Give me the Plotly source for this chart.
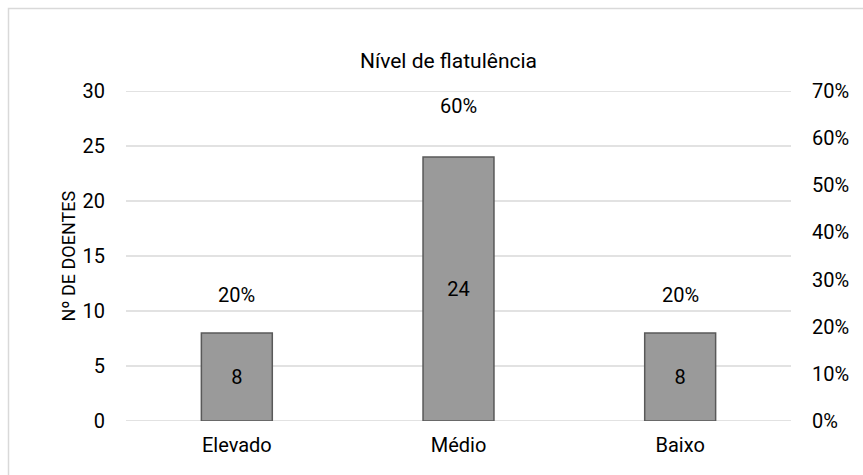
import plotly.graph_objects as go

categories = ["Elevado", "Médio", "Baixo"]
doentes = [8, 24, 8]
percent = [0.20, 0.60, 0.20]
left_ticks = [0, 5, 10, 15, 20, 25, 30]
title_text = "Nível de flatulência"
y_title = "Nº DE DOENTES"

FONT = "Roboto"
W, H = 863, 475
L, R, T, B = 126, 72, 91, 54
pw, ph = W - L - R, H - T - B

def px_x(x):
    return (x - L) / pw

def px_y(y):
    return (H - B - y) / ph

fig = go.Figure()

for t in left_ticks:
    fig.add_shape(type="line", xref="paper", yref="y", x0=0, x1=1, y0=t, y1=t,
                  line=dict(color="#d9d9d9", width=1.6), layer="below")

fig.add_trace(go.Bar(
    x=categories, y=doentes, width=0.32,
    marker=dict(color="#9a9a9a", line=dict(color="#595959", width=1.5)),
    text=[str(v) for v in doentes], textposition="inside", insidetextanchor="middle",
    textfont=dict(family=FONT, size=20, color="#000000"),
    showlegend=False, hoverinfo="skip",
))
fig.add_trace(go.Scatter(
    x=categories, y=percent, yaxis="y2", mode="markers",
    marker=dict(opacity=0), showlegend=False, hoverinfo="skip",
))

for c, p in zip(categories, percent):
    fig.add_annotation(x=c, y=p, xref="x", yref="y2", yshift=32,
                       text=f"{round(p*100)}%", showarrow=False,
                       font=dict(family=FONT, size=20, color="#000000"))

fig.add_annotation(x=px_x(448), y=px_y(47), xref="paper", yref="paper",
                   text=title_text, showarrow=False,
                   font=dict(family=FONT, size=21, color="#000000"))
fig.add_annotation(x=px_x(55), y=0.5, xref="paper", yref="paper",
                   text=y_title, textangle=-90, showarrow=False,
                   font=dict(family=FONT, size=18, color="#000000"))

fig.add_shape(type="rect", xref="paper", yref="paper",
              x0=px_x(8.5), y0=-1, x1=2, y1=px_y(8.5),
              line=dict(color="#d9d9d9", width=1.5), layer="below")

fig.update_layout(
    width=W, height=H,
    margin=dict(l=L, r=R, t=T, b=B, autoexpand=False),
    paper_bgcolor="white", plot_bgcolor="white",
    font=dict(family=FONT, size=20, color="#000000"),
    bargap=0.68,
    xaxis=dict(showgrid=False, showline=False, ticks="", ticklabelstandoff=10,
               tickfont=dict(family=FONT, size=20, color="#000000")),
    yaxis=dict(range=[0, 30], tickvals=left_ticks, showgrid=False,
               zeroline=False, showline=False, ticks="", ticklabelstandoff=20,
               tickfont=dict(family=FONT, size=20, color="#000000")),
    yaxis2=dict(range=[0, 0.7], tick0=0, dtick=0.1, tickformat=".0%", overlaying="y", side="right",
                showgrid=False, zeroline=False, showline=False, ticks="", ticklabelstandoff=20,
                tickfont=dict(family=FONT, size=20, color="#000000")),
)

fig.write_html("out.html")
